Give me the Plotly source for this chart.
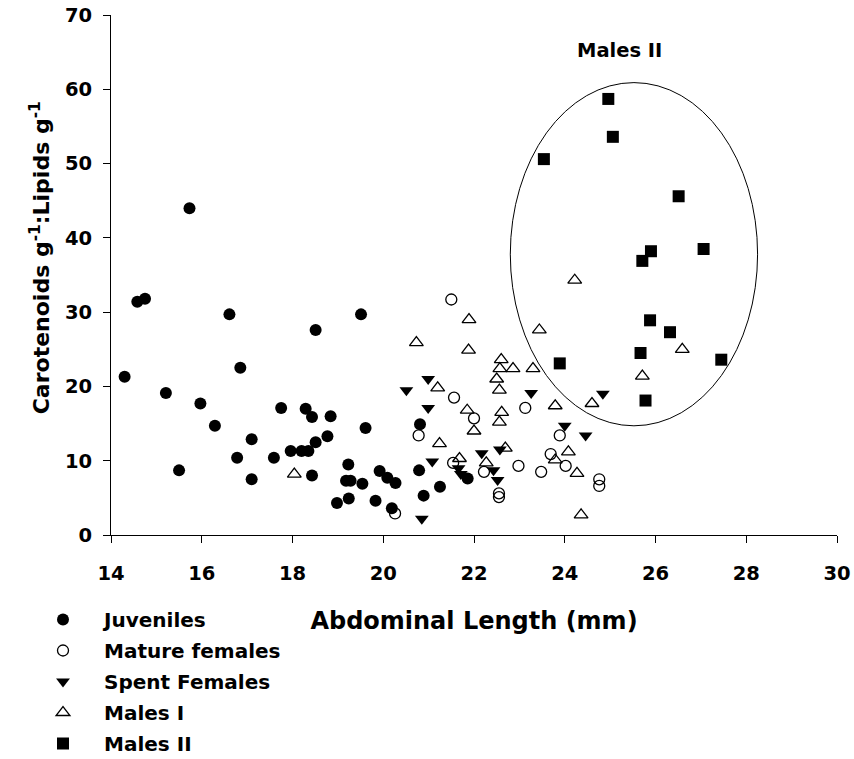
import plotly.graph_objects as go

# ---- data ----
juv_x = [14.30, 14.58, 14.75, 15.21, 15.50, 15.73, 15.97, 16.29, 16.61, 16.78, 16.85, 17.10, 17.10,
         17.59, 17.75, 17.96, 18.20, 18.29, 18.35, 18.43, 18.43, 18.51, 18.51, 18.77, 18.84, 18.98,
         19.18, 19.23, 19.24, 19.28, 19.51, 19.54, 19.61, 19.83, 19.92, 20.09, 20.19, 20.27, 20.79,
         20.81, 20.89, 21.25, 21.86]
juv_y = [21.3, 31.4, 31.8, 19.1, 8.7, 44.0, 17.7, 14.7, 29.7, 10.4, 22.5, 12.9, 7.5,
         10.4, 17.1, 11.3, 11.3, 17.0, 11.3, 15.9, 8.0, 12.5, 27.6, 13.3, 16.0, 4.3,
         7.3, 9.5, 4.9, 7.3, 29.7, 6.9, 14.4, 4.6, 8.6, 7.7, 3.6, 7.0, 8.7,
         14.9, 5.3, 6.5, 7.6]

mat_x = [20.26, 20.78, 21.50, 21.54, 21.56, 22.00, 22.22, 22.55, 22.55, 22.98, 23.13, 23.48,
         23.69, 23.89, 24.02, 24.76, 24.76]
mat_y = [2.9, 13.4, 31.7, 9.7, 18.5, 15.7, 8.5, 5.6, 5.1, 9.3, 17.1, 8.5,
         10.9, 13.4, 9.3, 7.5, 6.6]

spent_x = [20.51, 20.85, 20.99, 20.99, 21.08, 21.66, 21.71, 22.17, 22.43, 22.52, 22.57, 23.26,
           24.00, 24.46, 24.84]
spent_y = [19.5, 2.2, 21.0, 17.1, 9.9, 9.0, 8.2, 11.0, 8.7, 7.4, 11.5, 19.1,
           14.7, 13.4, 19.0]

m1_x = [18.04, 20.73, 21.20, 21.24, 21.68, 21.85, 21.88, 21.89, 22.00, 22.27, 22.50, 22.56,
        22.56, 22.57, 22.60, 22.61, 22.69, 22.86, 23.30, 23.44, 23.79, 23.79, 24.08, 24.22,
        24.27, 24.36, 24.60, 25.71, 26.59]
m1_y = [8.2, 25.9, 19.8, 12.3, 10.3, 16.8, 24.9, 29.0, 14.0, 9.7, 21.0, 19.5,
        15.2, 22.4, 23.6, 16.5, 11.7, 22.4, 22.4, 27.6, 17.4, 10.1, 11.2, 34.3,
        8.3, 2.7, 17.7, 21.4, 25.0]

m2_x = [23.54, 23.89, 24.96, 25.06, 25.67, 25.71, 25.78, 25.88, 25.90, 26.32, 26.51, 27.06, 27.45]
m2_y = [50.6, 23.1, 58.7, 53.6, 24.5, 36.9, 18.1, 28.9, 38.2, 27.3, 45.6, 38.5, 23.6]

series_names = ["Juveniles", "Mature females", "Spent Females", "Males I", "Males II"]

x_ticks = [14, 16, 18, 20, 22, 24, 26, 28, 30]
y_ticks = [0, 10, 20, 30, 40, 50, 60, 70]

# ellipse enclosing the "Males II" group (data units)
ell_x = [22.80, 28.25]
ell_y = [14.7, 60.9]
ell_label = "Males II"
ell_label_pos = [25.20, 65.2]

FONT = "DejaVu Sans"
W, H = 854, 759

fig = go.Figure()

styles = [
    dict(symbol="circle", size=12, color="black"),
    dict(symbol="circle-open", size=11, color="black", line=dict(width=1.3, color="black")),
    dict(symbol="triangle-down", size=12, color="black"),
    dict(symbol="triangle-up-open", size=12, color="black", line=dict(width=1.3, color="black")),
    dict(symbol="square", size=12, color="black"),
]
data = [(juv_x, juv_y), (mat_x, mat_y), (spent_x, spent_y), (m1_x, m1_y), (m2_x, m2_y)]

for i, ((xs, ys), name, st) in enumerate(zip(data, series_names, styles)):
    fig.add_trace(go.Scatter(x=xs, y=ys, mode="markers", name=name,
                             legendgroup=f"g{i}", marker=st))

fig.add_shape(type="circle", xref="x", yref="y",
              x0=ell_x[0], x1=ell_x[1], y0=ell_y[0], y1=ell_y[1],
              line=dict(color="black", width=1))

fig.add_annotation(x=ell_label_pos[0], y=ell_label_pos[1], xref="x", yref="y",
                   text=ell_label, showarrow=False,
                   font=dict(family=FONT, size=19.5, color="black", weight="bold"))

fig.add_annotation(x=-0.0985, y=0.533, xref="paper", yref="paper",
                   text="Carotenoids g<sup>-1</sup>:Lipids g<sup>-1</sup>",
                   textangle=-90, showarrow=False, xanchor="center", yanchor="middle",
                   font=dict(family=FONT, size=22, color="black", weight="bold"))

axis_common = dict(showline=True, linecolor="black", linewidth=1, ticks="outside",
                   ticklen=7, tickwidth=1, tickcolor="black", showgrid=False,
                   zeroline=False, mirror=False, ticklabeloverflow="allow",
                   tickfont=dict(family=FONT, size=19.5, color="black", weight="bold"))

fig.update_xaxes(range=[14, 30], tickvals=x_ticks, ticktext=[str(v) for v in x_ticks],
                 ticklabelstandoff=14,
                 title=dict(text="Abdominal Length (mm)", standoff=27,
                            font=dict(family=FONT, size=24, color="black", weight="bold")),
                 **axis_common)
fig.update_yaxes(range=[0, 70], tickvals=y_ticks, ticktext=[str(v) for v in y_ticks],
                 ticklabelstandoff=7, **axis_common)

fig.update_layout(
    width=W, height=H,
    margin=dict(l=111, r=17, t=15, b=224, autoexpand=False),
    paper_bgcolor="white", plot_bgcolor="white",
    showlegend=True,
    legend=dict(xref="container", yref="container", x=22 / W, y=1 - 600 / H,
                xanchor="left", yanchor="top", itemwidth=72, tracegroupgap=2,
                bgcolor="rgba(0,0,0,0)",
                font=dict(family=FONT, size=20, color="black", weight="bold")),
)

# remove the browser's default 8px body margin so the figure fills the window exactly
fig.write_html("out.html", config={"displayModeBar": False},
               post_script="document.body.style.margin='0';")
